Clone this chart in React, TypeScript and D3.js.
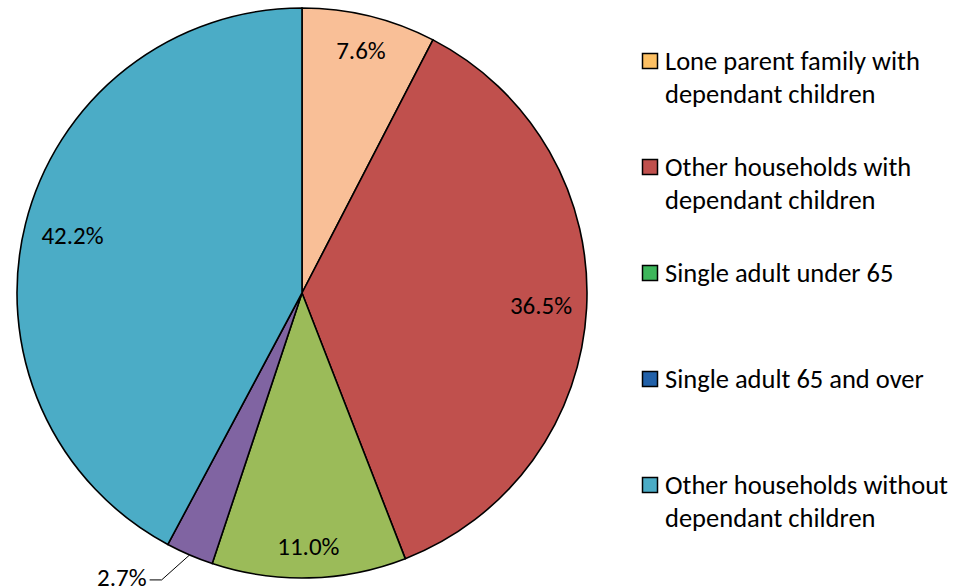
import React from "react";
import * as d3 from "d3";

const categories = [
  "Lone parent family with dependant children",
  "Other households with dependant children",
  "Single adult under 65",
  "Single adult 65 and over",
  "Other households without dependant children",
];
const values = [7.6, 36.5, 11.0, 2.7, 42.2];
const legendLines = [
  ["Lone parent family with", "dependant children"],
  ["Other households with", "dependant children"],
  ["Single adult under 65"],
  ["Single adult 65 and over"],
  ["Other households without", "dependant children"],
];
const sliceColors = ["#F9BF97", "#C0504D", "#9BBB59", "#8064A2", "#4BACC6"];
const legendColors = ["#FDC063", "#C0504D", "#3DB65B", "#2160A8", "#4BACC6"];

const W = 973;
const H = 587;
const cx = 302;
const cy = 293;
const R = 285;
const FONT = "Carlito, Calibri, 'Open Sans', 'Liberation Sans', sans-serif";

export default function App() {
  const pie = d3.pie<number>().sort(null).value((d) => d);
  const arcs = pie(values);
  const arc = d3.arc<d3.PieArcDatum<number>>().innerRadius(0).outerRadius(R);
  const labelFactors = [0.875, 0.84, 0.89, 0, 0.83];

  return (
    <svg width={W} height={H} style={{ position: "absolute", left: 0, top: 0 }}>
      <g transform={`translate(${cx},${cy})`}>
        {arcs.map((a, i) => (
          <path key={i} d={arc(a) || ""} fill={sliceColors[i]} stroke="#000" strokeWidth={1.6} />
        ))}
        {arcs.map((a, i) => {
          const mid = (a.startAngle + a.endAngle) / 2;
          if (i === 3) {
            const ex = Math.sin(mid) * R;
            const ey = -Math.cos(mid) * R;
            const kx = ex - 28;
            const ky = ey + 25;
            return (
              <g key={i}>
                <polyline
                  points={`${ex},${ey} ${kx},${ky} ${kx - 12},${ky}`}
                  fill="none"
                  stroke="#000"
                  strokeWidth={1}
                />
                <text
                  x={kx - 15}
                  y={ky - 2}
                  textAnchor="end"
                  dominantBaseline="central"
                  fontFamily={FONT}
                  fontSize={25}
                  fill="#000"
                >
                  {values[i].toFixed(1)}%
                </text>
              </g>
            );
          }
          const r = R * labelFactors[i];
          const x = Math.sin(mid) * r;
          const y = -Math.cos(mid) * r;
          return (
            <text
              key={i}
              x={x}
              y={y}
              textAnchor="middle"
              dominantBaseline="central"
              fontFamily={FONT}
              fontSize={25}
              fill="#000"
            >
              {values[i].toFixed(1)}%
            </text>
          );
        })}
      </g>
      {categories.map((c, i) => {
        const y0 = 61 + i * 106;
        return (
          <g key={c}>
            <rect x={642.5} y={y0 - 7.5} width={15} height={15} fill={legendColors[i]} stroke="#000" strokeWidth={1.5} />
            {legendLines[i].map((ln, j) => (
              <text
                key={j}
                x={665}
                y={y0 + j * 33}
                dominantBaseline="central"
                fontFamily={FONT}
                fontSize={26.5}
                fill="#000"
              >
                {ln}
              </text>
            ))}
          </g>
        );
      })}
    </svg>
  );
}
